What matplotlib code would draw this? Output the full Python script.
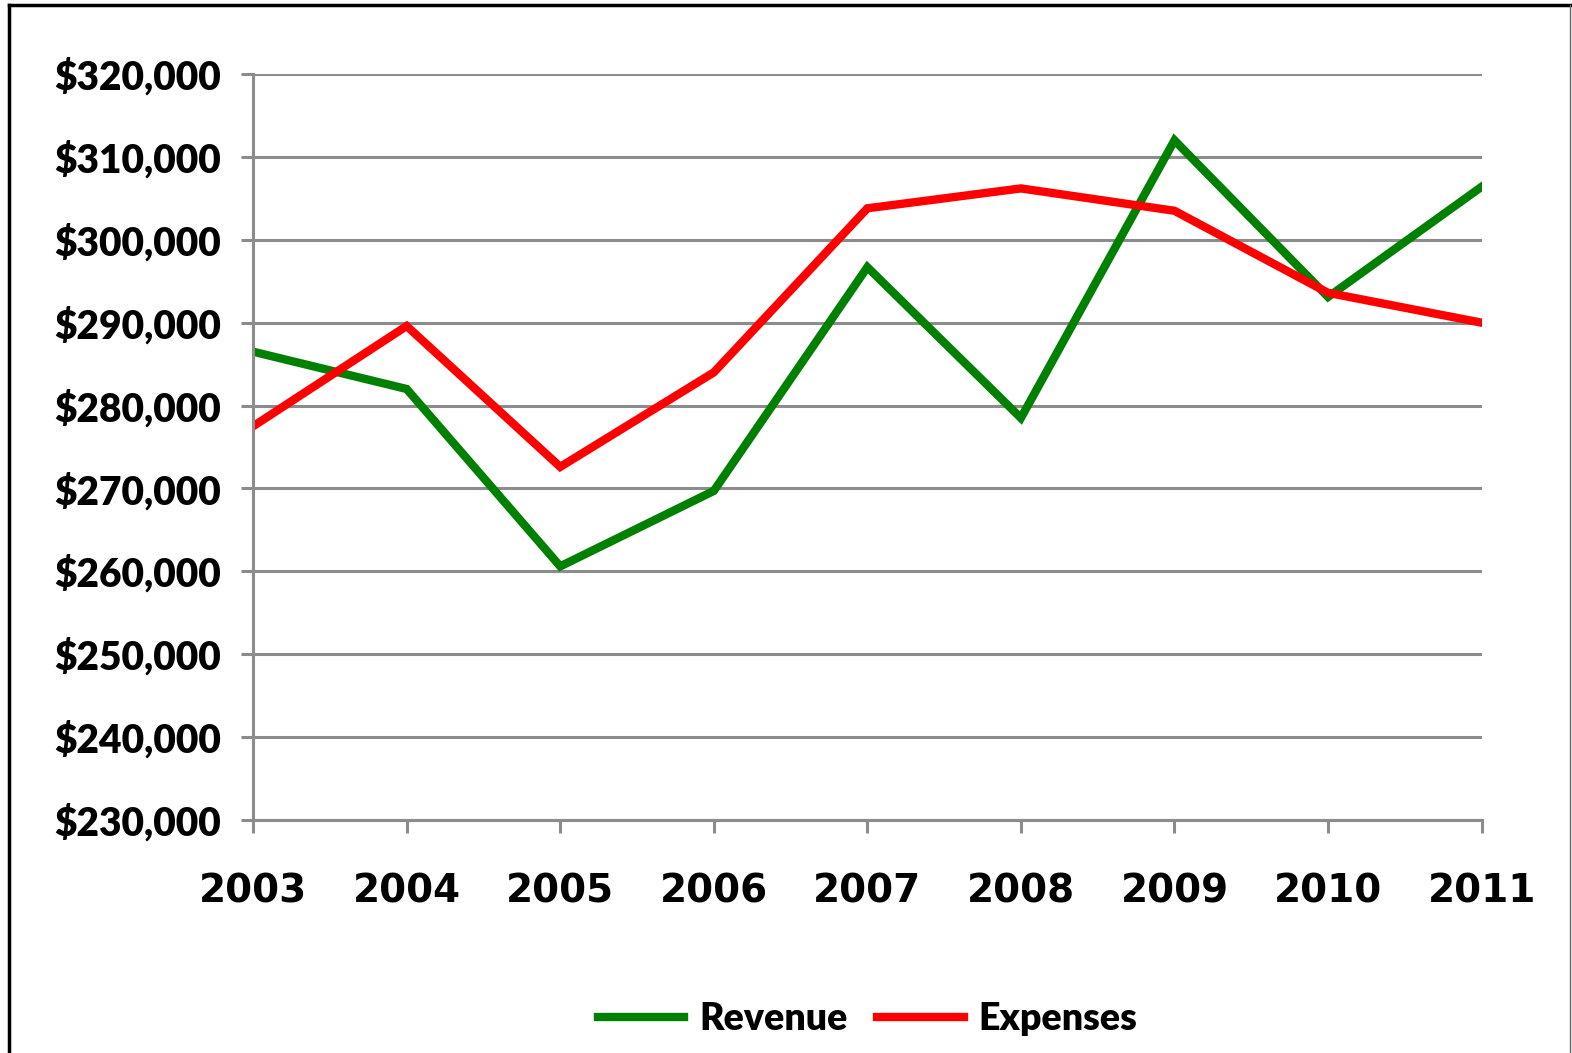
import matplotlib.pyplot as plt
from matplotlib.lines import Line2D
from matplotlib.ticker import FuncFormatter

years = ['2003', '2004', '2005', '2006', '2007', '2008', '2009', '2010', '2011']
revenue = [286500, 282000, 260600, 269700, 296700, 278500, 312000, 293100, 306400]
expenses = [277500, 289600, 272600, 284000, 303800, 306200, 303500, 293600, 290000]
yticks = list(range(230000, 320001, 10000))

fig = plt.figure(figsize=(15.72, 10.53), dpi=100)
ax = fig.add_axes([0.161, 0.2213, 0.7815, 0.7084])

x = range(len(years))
ax.plot(x, revenue, color='#008000', lw=6, label='Revenue', solid_joinstyle='miter')
ax.plot(x, expenses, color='#ff0000', lw=6, label='Expenses', solid_joinstyle='miter')

grey = '#8c8c8c'
ax.set_xlim(0, len(years) - 1)
ax.set_ylim(230000, 320000)
ax.set_yticks(yticks)
ax.yaxis.set_major_formatter(FuncFormatter(lambda v, p: '${:,.0f}'.format(v)))
ax.set_xticks(list(x))
ax.set_xticklabels(years)
ax.grid(axis='y', color=grey, lw=2.2)
ax.set_axisbelow(True)
for s in ['top', 'right']:
    ax.spines[s].set_visible(False)
for s in ['left', 'bottom']:
    ax.spines[s].set_color(grey)
    ax.spines[s].set_linewidth(2.2)
ax.tick_params(axis='both', color=grey, width=2.2, length=9)
ax.tick_params(axis='y', pad=14)
ax.tick_params(axis='x', pad=29)

for t in ax.get_yticklabels():
    t.set_fontfamily('Lato')
    t.set_fontweight('heavy')
    t.set_fontsize(28)
for t in ax.get_xticklabels():
    t.set_fontfamily('DejaVu Sans')
    t.set_fontweight('bold')
    t.set_fontsize(28)

leg = fig.legend(loc='center', bbox_to_anchor=(0.552, 0.032), ncol=2, frameon=False,
                 prop={'family': 'Lato', 'weight': 'heavy', 'size': 27},
                 handlelength=2.3, handletextpad=0.4, columnspacing=0.8)

# outer frame
fig.add_artist(Line2D([0.006, 0.006], [0, 0.995], transform=fig.transFigure, color='black', lw=2.5))
fig.add_artist(Line2D([0.006, 1.0], [0.995, 0.995], transform=fig.transFigure, color='black', lw=2.5))
fig.add_artist(Line2D([0.9985, 0.9985], [0, 0.995], transform=fig.transFigure, color='#666666', lw=1))

fig.savefig('out.png', dpi=100)
